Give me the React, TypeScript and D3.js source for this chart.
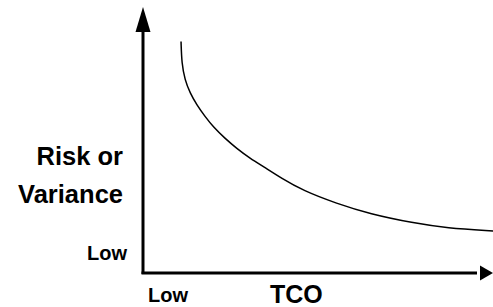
import React, { useEffect, useRef } from 'react';
import * as d3 from 'd3';

const width = 493;
const height = 307;

// curve (TCO on x, risk on y, both 0..100)
const tco = [10.9, 11.1, 12.0, 13.5, 15.4, 17.8, 20.1, 23.5, 26.8, 30.7, 34.5, 39.7, 45.8, 55.5, 65.0, 77.4, 87.0, 100.3];
const risk = [87.0, 78.8, 72.6, 67.6, 63.2, 58.8, 55.0, 50.6, 46.9, 43.1, 40.0, 35.6, 31.0, 26.1, 22.2, 18.8, 16.9, 15.8];

const yTitle = ['Risk or', 'Variance'];
const xTitle = 'TCO';
const lowLabel = 'Low';

const x = d3.scaleLinear().domain([0, 100]).range([143, 492]);
const y = d3.scaleLinear().domain([0, 100]).range([273, 7]);

const font = 'Arial, "Liberation Sans", sans-serif';

export default function App() {
	const ref = useRef<SVGSVGElement>(null);

	useEffect(() => {
		const svg = d3.select(ref.current);
		svg.selectAll('*').remove();

		// axes with arrow heads
		svg.append('line')
			.attr('x1', x(0)).attr('y1', y(0) + 1)
			.attr('x2', x(0)).attr('y2', y(100) + 20)
			.attr('stroke', '#000').attr('stroke-width', 3);
		svg.append('path')
			.attr('d', `M${x(0)},${y(100)} L${x(0) - 7.5},${y(100) + 25} L${x(0) + 7.5},${y(100) + 25} Z`)
			.attr('fill', '#000');

		svg.append('line')
			.attr('x1', x(0) - 1.5).attr('y1', y(0))
			.attr('x2', x(100) - 15).attr('y2', y(0))
			.attr('stroke', '#000').attr('stroke-width', 3);
		svg.append('path')
			.attr('d', `M${x(100) + 1},${y(0)} L${x(100) - 12},${y(0) - 7.5} L${x(100) - 12},${y(0) + 7.5} Z`)
			.attr('fill', '#000');

		// the curve
		const pts = tco.map((t, i) => [t, risk[i]] as [number, number]);
		const line = d3.line<[number, number]>()
			.x(d => x(d[0]))
			.y(d => y(d[1]))
			.curve(d3.curveBasis);
		svg.append('path')
			.datum(pts)
			.attr('d', line)
			.attr('fill', 'none')
			.attr('stroke', '#000')
			.attr('stroke-width', 1.5);

		// labels
		const g = svg.append('g')
			.attr('font-family', font)
			.attr('font-weight', 'bold')
			.attr('fill', '#000');

		g.selectAll('.ytitle')
			.data(yTitle)
			.enter()
			.append('text')
			.attr('class', 'ytitle')
			.attr('x', 123)
			.attr('y', (d, i) => 165 + i * 38)
			.attr('text-anchor', 'end')
			.attr('font-size', 25.5)
			.text(d => d);

		g.append('text')
			.attr('x', 127).attr('y', 260)
			.attr('text-anchor', 'end')
			.attr('font-size', 20)
			.text(lowLabel);

		g.append('text')
			.attr('x', 148).attr('y', 302)
			.attr('font-size', 20)
			.text(lowLabel);

		g.append('text')
			.attr('x', 270).attr('y', 303)
			.attr('font-size', 25)
			.text(xTitle);
	}, []);

	return (
		<svg ref={ref} width={width} height={height}
			style={{ position: 'absolute', left: 0, top: 0, background: '#fff' }} />
	);
}
